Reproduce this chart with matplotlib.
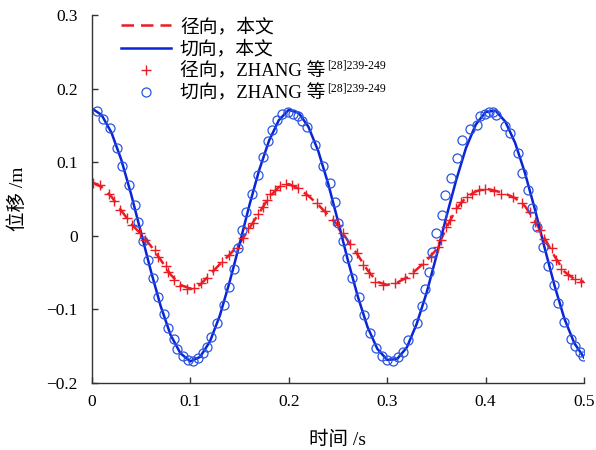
import matplotlib
matplotlib.use('Agg')
import matplotlib.pyplot as plt
from matplotlib.ticker import FuncFormatter, MultipleLocator

plt.rcParams['font.family'] = ['Liberation Serif', 'Noto Sans CJK SC']
plt.rcParams['axes.unicode_minus'] = True

# 本文计算结果 (每 0.01 s 一个点)
t_line = [0.00, 0.01, 0.02, 0.03, 0.04, 0.05, 0.06, 0.07, 0.08, 0.09,
          0.10, 0.11, 0.12, 0.13, 0.14, 0.15, 0.16, 0.17, 0.18, 0.19,
          0.20, 0.21, 0.22, 0.23, 0.24, 0.25, 0.26, 0.27, 0.28, 0.29,
          0.30, 0.31, 0.32, 0.33, 0.34, 0.35, 0.36, 0.37, 0.38, 0.39,
          0.40, 0.41, 0.42, 0.43, 0.44, 0.45, 0.46, 0.47, 0.48, 0.49, 0.50]
radial_line = [0.073, 0.066, 0.053, 0.034, 0.016, 0.002, -0.014, -0.033, -0.053, -0.067,
               -0.072, -0.067, -0.053, -0.039, -0.026, -0.011, 0.010, 0.031, 0.052, 0.066,
               0.070, 0.064, 0.054, 0.042, 0.028, 0.014, -0.007, -0.026, -0.047, -0.063,
               -0.067, -0.064, -0.057, -0.046, -0.034, -0.019, 0.010, 0.036, 0.052, 0.060,
               0.064, 0.061, 0.057, 0.051, 0.040, 0.020, -0.004, -0.028, -0.049, -0.059, -0.063]
tangent_line = [0.173, 0.164, 0.140, 0.103, 0.056, 0.004, -0.048, -0.096, -0.135, -0.160,
                -0.171, -0.165, -0.144, -0.109, -0.063, -0.012, 0.041, 0.089, 0.129, 0.157,
                0.171, 0.167, 0.148, 0.115, 0.071, 0.020, -0.033, -0.082, -0.124, -0.154,
                -0.169, -0.168, -0.152, -0.120, -0.078, -0.028, 0.025, 0.075, 0.119, 0.151,
                0.168, 0.170, 0.155, 0.126, 0.085, 0.036, -0.017, -0.068, -0.113, -0.146, -0.166]

# ZHANG 等的结果
t_radial_ref = [0.001, 0.008, 0.017, 0.023, 0.029, 0.036, 0.041, 0.049, 0.054, 0.064,
                0.067, 0.075, 0.0775, 0.084, 0.090, 0.097, 0.104, 0.111, 0.117, 0.123,
                0.132, 0.139, 0.147, 0.154, 0.159, 0.1635, 0.169, 0.174, 0.178, 0.181,
                0.186, 0.191, 0.197, 0.203, 0.209, 0.218, 0.2285, 0.237, 0.245, 0.250,
                0.255, 0.262, 0.269, 0.2755, 0.282, 0.288, 0.296, 0.308, 0.318, 0.326,
                0.3365, 0.345, 0.352, 0.355, 0.360, 0.364, 0.370, 0.375, 0.381, 0.386,
                0.393, 0.3995, 0.409, 0.416, 0.428, 0.437, 0.4455, 0.4505, 0.4555, 0.4597,
                0.467, 0.471, 0.4767, 0.484, 0.4905, 0.497]
radial_ref = [0.072, 0.069, 0.057, 0.047, 0.035, 0.024, 0.014, 0.004, -0.006, -0.019,
              -0.029, -0.042, -0.049, -0.061, -0.068, -0.072, -0.071, -0.065, -0.057, -0.047,
              -0.036, -0.027, -0.017, -0.003, 0.010, 0.017, 0.030, 0.039, 0.048, 0.056,
              0.062, 0.068, 0.070, 0.069, 0.065, 0.055, 0.044, 0.033, 0.021, 0.015,
              0.003, -0.011, -0.024, -0.040, -0.051, -0.063, -0.067, -0.065, -0.058, -0.051,
              -0.038, -0.029, -0.015, -0.006, 0.012, 0.021, 0.037, 0.046, 0.053, 0.057,
              0.062, 0.064, 0.060, 0.057, 0.053, 0.044, 0.032, 0.019, 0.007, -0.004,
              -0.017, -0.033, -0.045, -0.054, -0.059, -0.063]

t_tangent_ref = [0.005, 0.011, 0.018, 0.026, 0.031, 0.038, 0.044, 0.047, 0.052, 0.057,
                 0.062, 0.067, 0.073, 0.077, 0.083, 0.087, 0.093, 0.098, 0.103, 0.108,
                 0.113, 0.117, 0.121, 0.127, 0.134, 0.139, 0.144, 0.149, 0.153, 0.157,
                 0.163, 0.169, 0.174, 0.179, 0.183, 0.188, 0.193, 0.199, 0.204, 0.209,
                 0.214, 0.219, 0.227, 0.235, 0.242, 0.247, 0.2505, 0.2555, 0.259, 0.264,
                 0.271, 0.276, 0.283, 0.289, 0.2945, 0.2996, 0.306, 0.311, 0.316, 0.3215,
                 0.330, 0.335, 0.3385, 0.342, 0.346, 0.350, 0.3555, 0.359, 0.3646, 0.3707,
                 0.3758, 0.384, 0.391, 0.394, 0.399, 0.403, 0.407, 0.411, 0.420, 0.425,
                 0.433, 0.437, 0.443, 0.447, 0.452, 0.4587, 0.4637, 0.469, 0.474, 0.480,
                 0.4865, 0.491, 0.4955, 0.4993]
tangent_ref = [0.169, 0.159, 0.146, 0.119, 0.094, 0.069, 0.042, 0.019, -0.008, -0.033,
               -0.058, -0.083, -0.107, -0.125, -0.140, -0.154, -0.164, -0.169, -0.170, -0.167,
               -0.160, -0.151, -0.138, -0.119, -0.095, -0.070, -0.045, -0.017, 0.007, 0.032,
               0.057, 0.082, 0.107, 0.129, 0.144, 0.157, 0.166, 0.168, 0.166, 0.163,
               0.156, 0.148, 0.123, 0.095, 0.071, 0.046, 0.017, -0.008, -0.031, -0.058,
               -0.083, -0.108, -0.133, -0.153, -0.164, -0.169, -0.170, -0.165, -0.158, -0.142,
               -0.119, -0.096, -0.073, -0.049, -0.022, 0.003, 0.028, 0.055, 0.079, 0.105,
               0.130, 0.145, 0.151, 0.162, 0.166, 0.168, 0.168, 0.164, 0.149, 0.139,
               0.112, 0.085, 0.062, 0.037, 0.012, -0.015, -0.042, -0.067, -0.092, -0.117,
               -0.140, -0.150, -0.158, -0.164]

cite = '[28]239-249'

red = '#ec1c24'
blue = '#0a24d8'
blue_pt = '#2a55e0'

fig = plt.figure(figsize=(5.96, 4.5), dpi=100)
ax = fig.add_axes([0.154, 0.1496, 0.826, 0.8171])

ax.plot(t_line, radial_line, color=red, lw=1.8, ls=(0, (5, 2.8)), label='径向，本文')
ax.plot(t_line, tangent_line, color=blue, lw=1.8, label='切向，本文')
ax.plot(t_radial_ref, radial_ref, ls='none', marker='+', ms=7, mew=1.0, color=red,
        label='径向，ZHANG 等')
ax.plot(t_tangent_ref, tangent_ref, ls='none', marker='o', ms=6.5, mew=0.9, mfc='none',
        color=blue_pt, label='切向，ZHANG 等')

ax.set_xlim(0, 0.5)
ax.set_ylim(-0.2, 0.3)
ax.xaxis.set_major_locator(MultipleLocator(0.1))
ax.yaxis.set_major_locator(MultipleLocator(0.1))
fmt = FuncFormatter(lambda v, p: ('%g' % round(v, 3)).replace('-', '\u2212'))
ax.xaxis.set_major_formatter(fmt)
ax.yaxis.set_major_formatter(fmt)

for s in ['top', 'right']:
    ax.spines[s].set_visible(False)
for s in ['left', 'bottom']:
    ax.spines[s].set_color('#333333')
    ax.spines[s].set_linewidth(1.0)
ax.tick_params(direction='in', length=4, width=1.0, color='#333333',
               labelsize=12.5, pad=8)
ax.tick_params(axis='y', pad=10)

ax.set_xlabel('时间 /s', fontsize=14, labelpad=15)
ax.set_ylabel('位移 /m', fontsize=14, labelpad=14)

leg = ax.legend(loc='upper left', bbox_to_anchor=(0.059, 0.992), frameon=False, fontsize=13.5,
                handlelength=2.7, handletextpad=0.45, labelspacing=0.24,
                borderpad=0, borderaxespad=0)

# 参考文献角标, 放在图例文字右上方
fig.canvas.draw()
for txt in leg.get_texts()[2:]:
    bb = txt.get_window_extent()
    fig.text((bb.x1 + 2) / fig.bbox.width, (bb.y1 + 3) / fig.bbox.height, cite,
             ha='left', va='top', fontsize=8.5)

fig.savefig('out.png', dpi=100)
